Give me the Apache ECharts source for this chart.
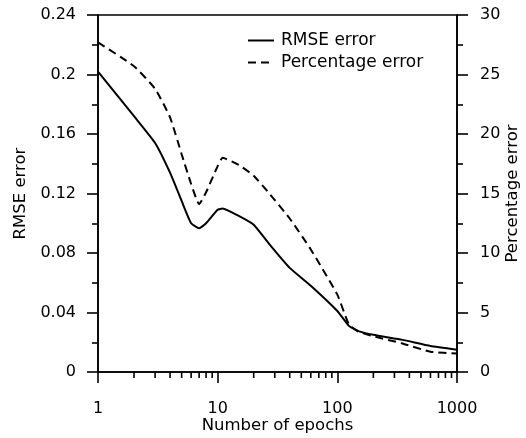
<!DOCTYPE html>
<html><head><meta charset="utf-8">
<script src="https://cdn.jsdelivr.net/npm/echarts@6/dist/echarts.min.js"></script>
<style>html,body{margin:0;padding:0;background:#fff}#c{width:526px;height:438px}</style>
</head><body><div id="c"></div>
<script>
const epochs = [1,2,3,4,5,6,7,8,10,11,15,20,27,40,60,100,125,150,200,350,600,1000];
const rmseError = [0.202,0.172,0.154,0.134,0.115,0.100,0.0966,0.100,0.109,0.110,0.105,0.099,0.086,0.070,0.058,0.041,0.031,0.0275,0.025,0.0216,0.0175,0.015];
const percentageError = [27.7,25.7,23.8,21.4,18.3,15.8,14.1,15.1,17.3,18.0,17.4,16.5,15.0,12.9,10.3,6.5,4.0,3.4,3.0,2.4,1.7,1.55];
const minorXTicks = [2,3,4,5,6,7,8,9,20,30,40,50,60,70,80,90,200,300,400,500,600,700,800,900];
const seriesNames = ['RMSE error','Percentage error'];
const axisNames = {x:'Number of epochs', left:'RMSE error', right:'Percentage error'};

const FONT = 'DejaVu Sans, sans-serif';
const black = '#000';
const chart = echarts.init(document.getElementById('c'), null, {renderer:'canvas'});
const lineOf = (ys) => epochs.map((x,i)=>[x, ys[i]]);
const labelStyle = {color: black, fontFamily: FONT, fontSize: 16};
const nameStyle = {color: black, fontFamily: FONT, fontSize: 16.5};
chart.setOption({
  animation: false,
  backgroundColor: '#fff',
  grid: {left: 98, right: 69, top: 15, bottom: 66, containLabel: false, outerBoundsMode: 'none',
    show: true, borderColor: black, borderWidth: 1.6, backgroundColor: 'transparent'},
  legend: {
    orient: 'vertical', left: 242, top: 27, itemWidth: 26, itemHeight: 2, itemGap: 5,
    data: seriesNames,
    itemStyle: {opacity: 0},
    textStyle: {color: black, fontFamily: FONT, fontSize: 17, padding:[0,0,0,2]}
  },
  xAxis: {
    type: 'log', logBase: 10, min: 1, max: 1000,
    name: axisNames.x, nameLocation: 'middle', nameGap: 45, nameMoveOverlap: false,
    nameTextStyle: nameStyle,
    axisLine: {lineStyle: {color: black, width: 1.6}},
    axisTick: {inside: false, length: 11, lineStyle: {color: black, width: 1.6}},
    minorTick: {show: false},
    splitLine: {show: false},
    axisLabel: Object.assign({margin: 29, formatter: v => String(v)}, labelStyle)
  },
  yAxis: [{
    type: 'value', min: 0, max: 0.24, interval: 0.04, position: 'left',
    name: axisNames.left, nameLocation: 'middle', nameGap: 69, nameRotate: 90, nameMoveOverlap: false,
    nameTextStyle: nameStyle,
    axisLine: {show: true, lineStyle: {color: black, width: 1.6}},
    axisTick: {show: true, inside: false, length: 11, lineStyle: {color: black, width: 1.6}},
    minorTick: {show: true, splitNumber: 2, length: 6, lineStyle: {color: black, width: 1.6}},
    splitLine: {show: false}, minorSplitLine: {show: false},
    axisLabel: Object.assign({margin: 22}, labelStyle)
  },{
    type: 'value', min: 0, max: 30, interval: 5, position: 'right',
    name: axisNames.right, nameLocation: 'middle', nameGap: 47, nameRotate: 90, nameMoveOverlap: false,
    nameTextStyle: nameStyle,
    axisLine: {show: true, lineStyle: {color: black, width: 1.6}},
    axisTick: {show: true, inside: false, length: 11, lineStyle: {color: black, width: 1.6}},
    minorTick: {show: true, splitNumber: 2, length: 6, lineStyle: {color: black, width: 1.6}},
    splitLine: {show: false}, minorSplitLine: {show: false},
    axisLabel: Object.assign({margin: 23}, labelStyle)
  }],
  series: [{
    name: seriesNames[0], type: 'line', yAxisIndex: 0, data: lineOf(rmseError),
    symbol: 'none', smooth: 0.15, color: black,
    lineStyle: {color: black, width: 2}
  },{
    name: seriesNames[1], type: 'line', yAxisIndex: 1, data: lineOf(percentageError),
    symbol: 'none', smooth: 0.15, color: black,
    lineStyle: {color: black, width: 2, type: [8,5]}
  },{
    name: 'minorX', type: 'custom', yAxisIndex: 0, clip: false, silent: true, z: 5,
    data: minorXTicks.map(v => [v, 0]),
    encode: {x: 0, y: 1},
    renderItem: function (params, api) {
      const p = api.coord([api.value(0), 0]);
      return {type: 'line', shape: {x1: p[0], y1: p[1], x2: p[0], y2: p[1] + 6},
        style: {stroke: black, lineWidth: 1.6}};
    }
  }]
});
</script></body></html>
